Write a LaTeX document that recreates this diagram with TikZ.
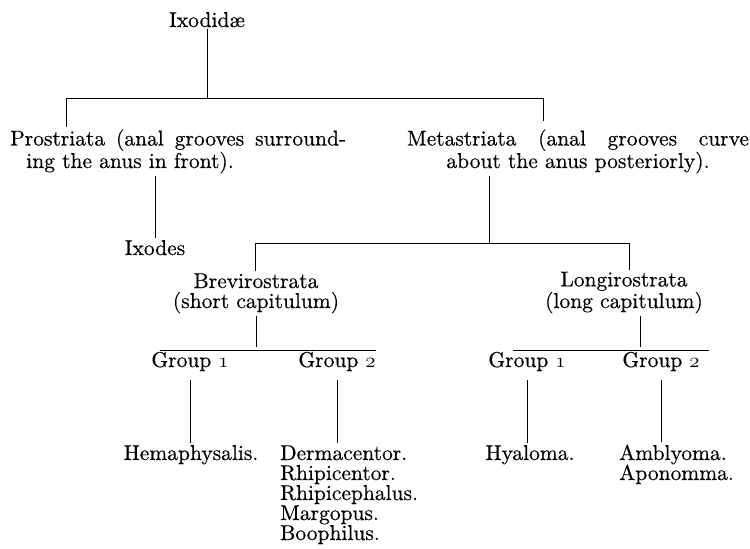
\documentclass[tikz,border=0pt]{standalone}
\usepackage{fontspec}
\setmainfont{lmroman10-regular.otf}[FakeBold = 0.4]
\newcommand{\oldfig}[1]{{\usefont{OML}{cmm}{m}{it}#1}}

\begin{document}
\begin{tikzpicture}[x = 1pt, y = -1pt,
	taxon/.style = {font = \fontsize{21.5}{20}\selectfont, inner sep = 2pt, anchor = base},
	branch/.style = {line width = 0.9pt}]

	\useasboundingbox (0, 0) rectangle (750, 549);

	% Family

	\node [taxon] (ixodidae) at (207, 27) {Ixodidæ};

	% Sub-families (base = last line)

	\node [taxon, anchor = base west, align = left] (prostriata) at (8, 168) {\makebox[336pt][s]{Prostriata (anal grooves surround-}\\\hspace*{0.75em}ing the anus in front).};
	\node [taxon, align = center] (metastriata) at (578, 168) {\makebox[342pt][s]{Metastriata (anal grooves curve}\\about the anus posteriorly).};

	\coordinate (fork1 left) at (66, 98);
	\coordinate (fork1 right) at (543, 98);
	\draw [branch] (ixodidae.south) -- (ixodidae.south |- fork1 left);
	\draw [branch] (fork1 left) -- (fork1 right);
	\draw [branch] (fork1 left) -- (fork1 left |- prostriata.north);
	\draw [branch, shorten > = 6pt] (fork1 right) -- (fork1 right |- metastriata.north);

	% Prostriata

	\node [taxon] (ixodes) at (155, 255) {Ixodes};
	\draw [branch] (prostriata.south -| ixodes) -- (ixodes.north);

	% Metastriata

	\node [taxon, align = center] (brevirostrata) at (256, 308) {Brevirostrata\\(short capitulum)};
	\node [taxon, align = center] (longirostrata) at (624, 308) {Longirostrata\\(long capitulum)};

	\coordinate (fork2 left) at (255, 243);
	\coordinate (fork2 stem) at (489, 243);
	\coordinate (fork2 right) at (629, 243);
	\draw [branch] (metastriata.south -| fork2 stem) -- (fork2 stem);
	\draw [branch] (fork2 left) -- (fork2 right);
	\draw [branch] (fork2 left) -- (fork2 left |- brevirostrata.north);
	\draw [branch] (fork2 right) -- (fork2 right |- longirostrata.north);

	% Groups

	\node [taxon] (brevi group 1) at (190, 367) {Group \oldfig{1}};
	\node [taxon] (brevi group 2) at (337, 367) {Group \oldfig{2}};
	\node [taxon] (longi group 1) at (527, 367) {Group \oldfig{1}};
	\node [taxon] (longi group 2) at (661, 367) {Group \oldfig{2}};

	\coordinate (fork3 left) at (160, 350);
	\coordinate (fork3 right) at (376, 350);
	\coordinate (fork4 left) at (513, 350);
	\coordinate (fork4 stem) at (640, 350);
	\coordinate (fork4 right) at (709, 350);
	\draw [branch, shorten > = 3pt] (brevirostrata.south) -- (brevirostrata.south |- fork3 left);
	\draw [branch] (fork3 left) -- (fork3 right);
	\draw [branch, shorten > = 3pt] (longirostrata.south -| fork4 stem) -- (fork4 stem);
	\draw [branch] (fork4 left) -- (fork4 right);

	% Genera (base = last line)

	\node [taxon] (hemaphysalis) at (191, 460) {Hemaphysalis.};
	\node [taxon, anchor = base west, align = left] (brevi genera) at (278, 540) {Dermacentor.\\Rhipicentor.\\Rhipicephalus.\\Margopus.\\Boophilus.};
	\node [taxon] (hyaloma) at (530, 460) {Hyaloma.};
	\node [taxon, anchor = base west, align = left] (longi genera) at (617, 480) {Amblyoma.\\Aponomma.};

	\draw [branch, shorten < = 7pt] (brevi group 1.south) -- (brevi group 1.south |- hemaphysalis.north);
	\draw [branch, shorten < = 7pt] (brevi group 2.south) -- (brevi group 2.south |- brevi genera.north);
	\draw [branch, shorten < = 7pt] (longi group 1.south) -- (longi group 1.south |- hyaloma.north);
	\draw [branch, shorten < = 7pt] (longi group 2.south) -- (longi group 2.south |- longi genera.north);

\end{tikzpicture}
\end{document}
